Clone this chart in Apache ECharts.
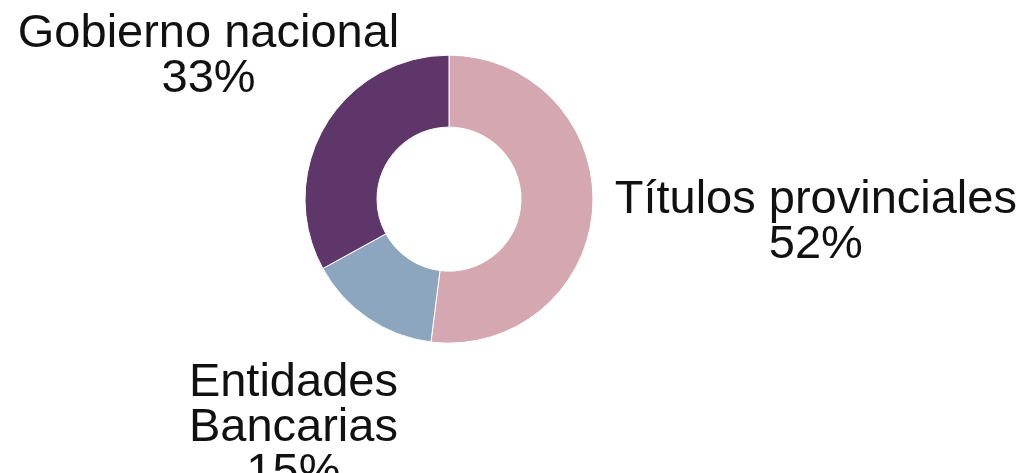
<!DOCTYPE html>
<html>
<head>
<meta charset="utf-8">
<script src="https://cdn.jsdelivr.net/npm/echarts@6/dist/echarts.min.js"></script>
<style>
  html, body { margin: 0; padding: 0; background: #fff; }
  #chart { width: 1031px; height: 473px; }
</style>
</head>
<body>
<div id="chart"></div>
<script>
const categories = ['Títulos provinciales', 'Entidades Bancarias', 'Gobierno nacional'];
const labelText = ['Títulos provinciales', 'Entidades\nBancarias', 'Gobierno nacional'];
const shares = [52, 15, 33];
const colors = ['#d4a7b1', '#8ba6be', '#5e3669'];

// space left between the ring and each label box
const labelGap = [22, 50, 45];

const chart = echarts.init(document.getElementById('chart'));

// put each label centred on the ray through the middle of its slice
function placeLabel(params) {
    const layout = chart.getModel().getSeriesByIndex(0).getData().getItemLayout(params.dataIndex);
    const mid = (layout.startAngle + layout.endAngle) / 2;
    const ux = Math.cos(mid), uy = Math.sin(mid);
    const hw = params.labelRect.width / 2, hh = params.labelRect.height / 2;
    const reach = Math.min(hw / Math.max(Math.abs(ux), 1e-6), hh / Math.max(Math.abs(uy), 1e-6));
    const d = layout.r + labelGap[params.dataIndex] + reach;
    return {
        x: layout.cx + ux * d,
        y: layout.cy + uy * d,
        align: 'center',
        verticalAlign: 'middle'
    };
}

const option = {
    animation: false,
    color: colors,
    series: [{
        type: 'pie',
        center: ['43.55%', '42.1%'],
        radius: [72, 144],
        startAngle: 90,
        clockwise: true,
        avoidLabelOverlap: false,
        itemStyle: { borderColor: '#fff', borderWidth: 1 },
        label: {
            show: true,
            position: 'outside',
            formatter: function (p) { return labelText[p.dataIndex] + '\n' + p.value + '%'; },
            fontFamily: 'Liberation Sans',
            fontSize: 47,
            lineHeight: 45,
            color: '#111'
        },
        labelLine: { show: false },
        labelLayout: placeLabel,
        emphasis: { disabled: true },
        data: categories.map((name, i) => ({ name: name, value: shares[i] }))
    }]
};

chart.setOption(option);
</script>
</body>
</html>
